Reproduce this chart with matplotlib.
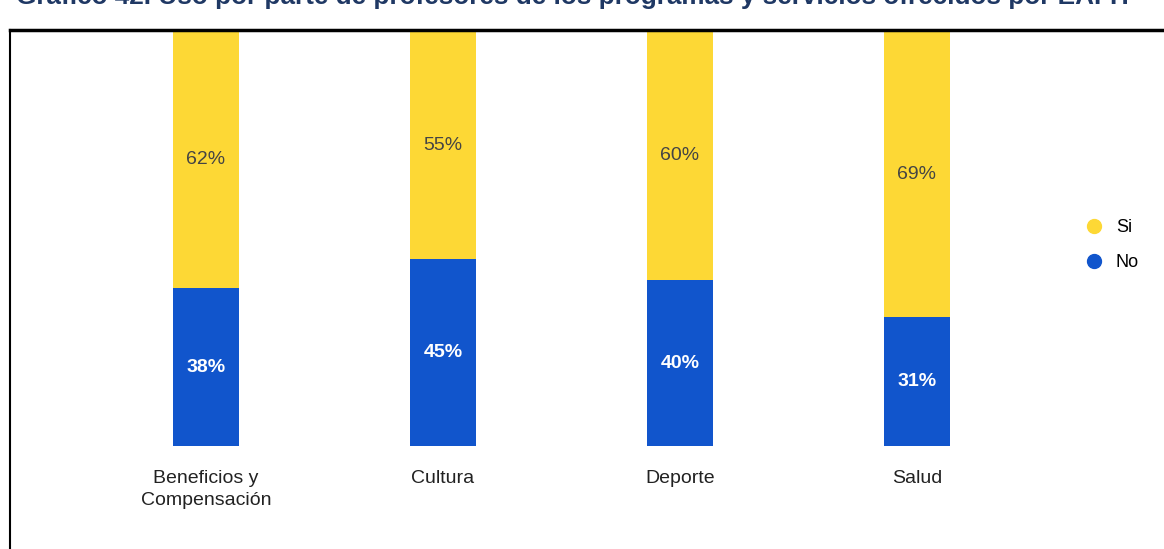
import matplotlib
matplotlib.use("Agg")
import matplotlib.pyplot as plt
from matplotlib.lines import Line2D

plt.rcParams['font.family'] = ['Liberation Sans', 'DejaVu Sans']

categorias = ["Beneficios y\nCompensación", "Cultura", "Deporte", "Salud"]
si = [62, 55, 60, 69]
no = [38, 45, 40, 31]
titulo = "Gráfico 42. Uso por parte de profesores de los programas y servicios ofrecidos por EAFIT"

amarillo = "#FDD835"
azul = "#1155CC"

W, H = 1164, 549
fig = plt.figure(figsize=(W / 100, H / 100), dpi=100)
ax = fig.add_axes([87.5 / W, (H - 446) / H, 948 / W, 415 / H])

x = list(range(len(categorias)))
ancho = 0.28
ax.bar(x, no, width=ancho, color=azul, label="No")
ax.bar(x, si, width=ancho, bottom=no, color=amarillo, label="Si")

for i in x:
    ax.text(i, no[i] / 2, f"{no[i]}%", ha="center", va="center",
            color="white", fontsize=14, fontweight="bold")
    ax.text(i, no[i] + si[i] / 2, f"{si[i]}%", ha="center", va="center",
            color="#444444", fontsize=14)

ax.set_xlim(-0.5, 3.5)
ax.set_ylim(0, 100)
ax.set_xticks(x)
ax.set_xticklabels(categorias, fontsize=14, color="#222222", linespacing=1.45)
ax.tick_params(axis="x", length=0, pad=17)
ax.set_yticks([])
for s in ax.spines.values():
    s.set_visible(False)

# leyenda
handles = [Line2D([], [], marker="o", linestyle="", markersize=10, color=amarillo),
           Line2D([], [], marker="o", linestyle="", markersize=10, color=azul)]
fig.legend(handles, ["Si", "No"], loc="center left",
           bbox_to_anchor=(1060 / W, 1 - 245 / H), frameon=False,
           fontsize=13, handletextpad=0.2, labelspacing=1.0)

# marco
fig.add_artist(Line2D([10 / W, 10 / W], [0, 1 - 30 / H], color="black", lw=1.5,
                      transform=fig.transFigure))
fig.add_artist(Line2D([10 / W, 1], [1 - 30 / H, 1 - 30 / H], color="black", lw=2.5,
                      transform=fig.transFigure))

fig.text(575 / W, 1 - 4 / H, titulo, ha="center", va="baseline",
         fontsize=18.8, fontweight="bold", color="#1F3864")

fig.savefig("out.png", dpi=100)
